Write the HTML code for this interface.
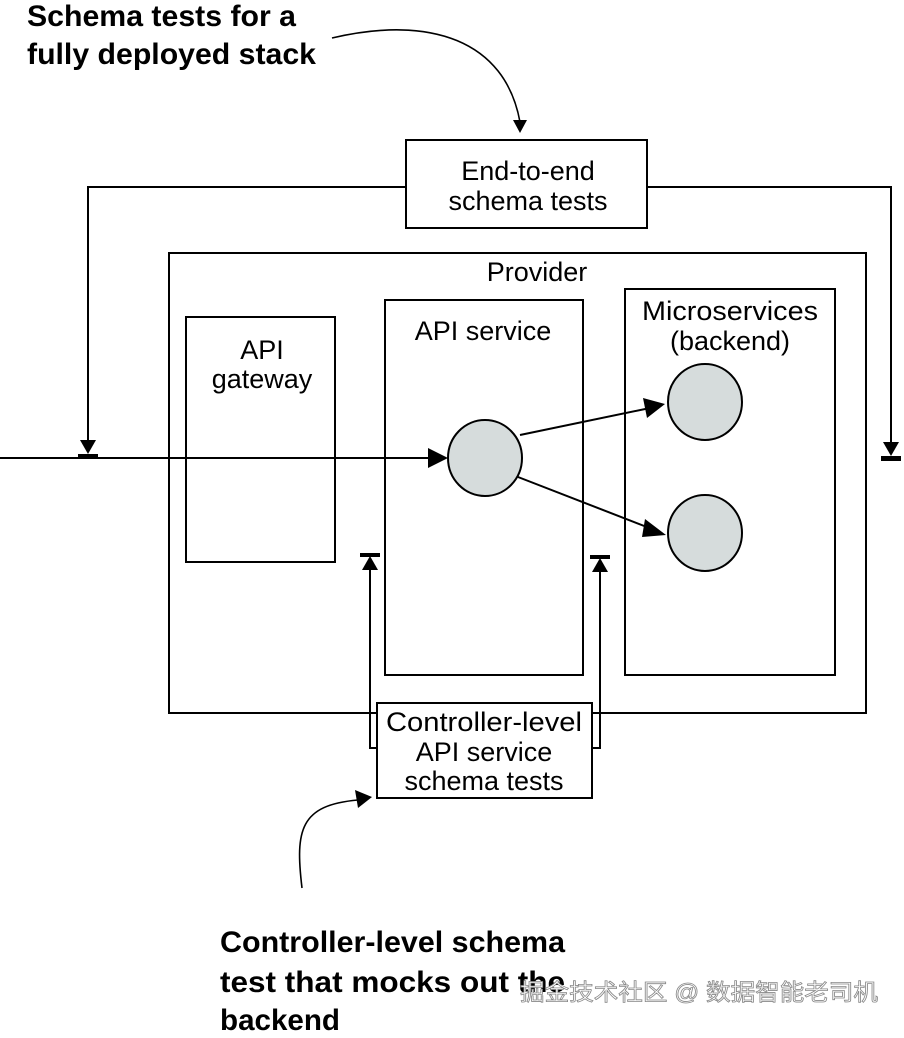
<!DOCTYPE html>
<html><head><style>
body{margin:0;background:#fff;}
svg text{font-family:"Liberation Sans","Noto Sans CJK SC",sans-serif;}
</style></head><body>
<svg width="904" height="1033" viewBox="0 0 904 1033" xmlns="http://www.w3.org/2000/svg">
<g fill="none" stroke="#000" stroke-width="2">
<rect x="406" y="140" width="241" height="88" fill="#fff"/>
<polyline points="406,187 88,187 88,440"/>
<polyline points="647,187 891,187 891,442"/>
<rect x="169" y="253" width="697" height="460"/>
<rect x="186" y="317" width="149" height="245"/>
<rect x="385" y="300" width="198" height="375"/>
<rect x="625" y="289" width="210" height="386"/>
<line x1="0" y1="458" x2="432" y2="458"/>
<line x1="520" y1="435" x2="650" y2="408"/>
<line x1="518" y1="477" x2="652" y2="529"/>
<polyline points="377,748 370,748 370,570"/>
<polyline points="592,748 600,748 600,572"/>
<rect x="377" y="703" width="215" height="95" fill="#fff"/>
<path d="M332,38 C430,15 505,40 520,122" stroke-width="1.6"/>
<path d="M302,888 C295,830 300,805 358,800" stroke-width="1.6"/>
</g>
<g fill="#000">
<path d="M80,440 L96,440 L88,454 Z"/><rect x="78" y="454" width="20" height="5"/>
<path d="M883,442 L899,442 L891,456 Z"/><rect x="881" y="456" width="20" height="5"/>
<path d="M362,570 L378,570 L370,556 Z"/><rect x="360" y="553" width="20" height="4"/>
<path d="M592,572 L608,572 L600,558 Z"/><rect x="590" y="555" width="20" height="4"/>
<path d="M428,448 L448,458 L428,468 Z"/>
<path d="M643,398 L665,404 L647,418 Z"/>
<path d="M645,519 L666,535 L642,537 Z"/>
<path d="M513,120 L527,120 L520,133 Z"/>
<path d="M355,790 L372,797 L358,808 Z"/>
</g>
<g fill="#d6dcdc" stroke="#000" stroke-width="2">
<ellipse cx="485" cy="458" rx="37" ry="38"/>
<ellipse cx="705" cy="402" rx="37" ry="38"/>
<ellipse cx="705" cy="533" rx="37" ry="38"/>
</g>
<g font-size="27" text-anchor="middle" fill="#000">
<text x="528" y="180">End-to-end</text>
<text x="528" y="210">schema tests</text>
<text x="537" y="281">Provider</text>
<text x="262" y="359">API</text>
<text x="262" y="388">gateway</text>
<text x="483" y="340">API service</text>
<text x="730" y="320" textLength="176" lengthAdjust="spacingAndGlyphs">Microservices</text>
<text x="730" y="350">(backend)</text>
<text x="484" y="731" textLength="196" lengthAdjust="spacingAndGlyphs">Controller-level</text>
<text x="484" y="761">API service</text>
<text x="484" y="790">schema tests</text>
</g>
<g font-size="30" font-weight="bold" fill="#000">
<text x="27" y="26" textLength="269" lengthAdjust="spacingAndGlyphs">Schema tests for a</text>
<text x="27" y="64" textLength="289" lengthAdjust="spacingAndGlyphs">fully deployed stack</text>
<text x="220" y="952" textLength="345" lengthAdjust="spacingAndGlyphs">Controller-level schema</text>
<text x="220" y="992" textLength="345" lengthAdjust="spacingAndGlyphs">test that mocks out the</text>
<text x="220" y="1030" textLength="120" lengthAdjust="spacingAndGlyphs">backend</text>
</g>
<text x="520" y="1000" font-size="23" fill="#fff" stroke="#888" stroke-width="0.8" textLength="358" lengthAdjust="spacingAndGlyphs">掘金技术社区 @ 数据智能老司机</text>
</svg>
</body></html>
